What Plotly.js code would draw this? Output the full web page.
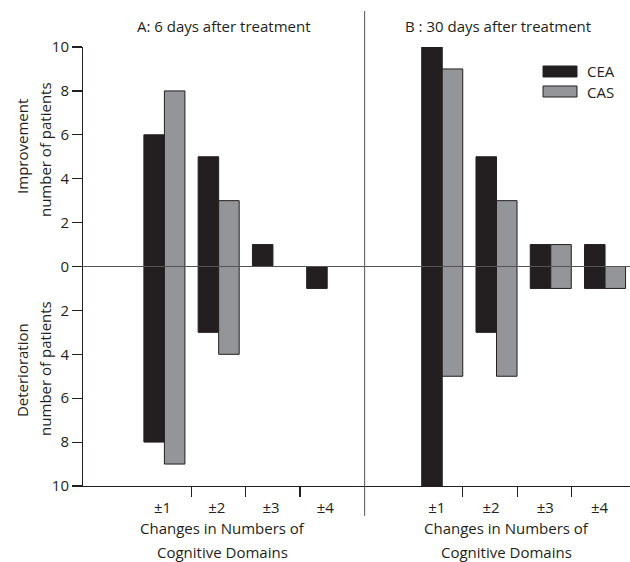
<!DOCTYPE html>
<html>
<head>
<meta charset="utf-8">
<script src="https://cdn.plot.ly/plotly-3.0.1.min.js"></script>
<style>html,body{margin:0;padding:0;background:#fff;}#chart{width:630px;height:562px;}</style>
</head>
<body>
<div id="chart"></div>
<script>
// ---- data ----
const categories = ['±1', '±2', '±3', '±4'];
const seriesNames = ['CEA', 'CAS'];
const panelTitles = ['A: 6 days after treatment', 'B : 30 days after treatment'];
const xAxisTitleLines = ['Changes in Numbers of', 'Cognitive Domains'];
const improvementTitleLines = ['Improvement', 'number of patients'];
const deteriorationTitleLines = ['Deterioration', 'number of patients'];
const yTickValues = [-10, -8, -6, -4, -2, 0, 2, 4, 6, 8, 10];
const yTickLabels = ['10', '8', '6', '4', '2', '0', '2', '4', '6', '8', '10'];

// Panel A: 6 days
const ceaImproveA = [6, 5, 1, 0];
const ceaDeteriorA = [8, 3, 0, 1];
const casImproveA = [8, 3, 0, 0];
const casDeteriorA = [9, 4, 0, 0];
// Panel B: 30 days
const ceaImproveB = [10, 5, 1, 1];
const ceaDeteriorB = [10, 3, 1, 1];
const casImproveB = [9, 3, 1, 0];
const casDeteriorB = [5, 5, 1, 1];

// ---- layout helpers ----
const FONT = 'Open Sans, sans-serif';
const FS = 15;
const TXT = '#231f20';
const colors = {CEA: '#231f20', CAS: '#939598'};
const barW = 0.378;
const startA = 1.5, startB = 6.62;       // pair centres of first category
const labelA = 1.465, labelB = 6.52;     // label centres of first category
const dividerX = 5.19;

function pos(start) { return categories.map((c, i) => start + i); }

function barTrace(name, imp, det, start, offset) {
  const y = imp.map((v, i) => (v + det[i]) === 0 ? null : v + det[i]);
  const base = det.map(v => -v);
  return {
    type: 'bar', name: name, x: pos(start), y: y, base: base,
    width: barW, offset: offset,
    marker: {color: colors[name], line: {color: '#231f20', width: 1}},
    showlegend: false, hoverinfo: 'skip'
  };
}

const data = [
  barTrace('CEA', ceaImproveA, ceaDeteriorA, startA, -barW),
  barTrace('CAS', casImproveA, casDeteriorA, startA, 0),
  barTrace('CEA', ceaImproveB, ceaDeteriorB, startB, -barW),
  barTrace('CAS', casImproveB, casDeteriorB, startB, 0),
  {type: 'scatter', x: [0], y: [0], xaxis: 'x2', mode: 'none', showlegend: false, hoverinfo: 'skip'}
];

function ann(text, xref, yref, x, y, extra) {
  return Object.assign({text: text, xref: xref, yref: yref, x: x, y: y, showarrow: false,
    xanchor: 'center', yanchor: 'middle', font: {family: FONT, size: FS, color: TXT}}, extra || {});
}

const annotations = [
  ann(panelTitles[0], 'x', 'paper', 2.58, 1.048),
  ann(panelTitles[1], 'x', 'paper', 7.65, 1.048),
  // x-axis titles (one per panel)
  ann(xAxisTitleLines[0], 'x', 'paper', 2.57, -0.0957),
  ann(xAxisTitleLines[1], 'x', 'paper', 2.57, -0.1503),
  ann(xAxisTitleLines[0], 'x', 'paper', 7.80, -0.0957),
  ann(xAxisTitleLines[1], 'x', 'paper', 7.80, -0.1503),
  // y-axis titles
  ann(improvementTitleLines[0], 'paper', 'y', -0.1115, 5.45, {textangle: -90}),
  ann(improvementTitleLines[1], 'paper', 'y', -0.0695, 5.35, {textangle: -90}),
  ann(deteriorationTitleLines[0], 'paper', 'y', -0.1115, -4.72, {textangle: -90}),
  ann(deteriorationTitleLines[1], 'paper', 'y', -0.0695, -4.62, {textangle: -90}),
  // legend labels
  ann(seriesNames[0], 'paper', 'paper', 0.9175, 0.9442, {xanchor: 'left'}),
  ann(seriesNames[1], 'paper', 'paper', 0.9175, 0.8986, {xanchor: 'left'})
];

const xRange = [0, 10.08];
const layout = {
  width: 630, height: 562,
  margin: {l: 83, r: 0, t: 47, b: 76},
  paper_bgcolor: '#fff', plot_bgcolor: '#fff',
  font: {family: FONT, size: FS, color: TXT},
  barmode: 'overlay',
  showlegend: false,
  xaxis: {
    range: xRange, showgrid: false, zeroline: false,
    showline: true, linecolor: TXT, linewidth: 1,
    tickvals: [2, 3, 4, 7, 8, 9], ticktext: ['', '', '', '', '', ''],
    ticks: 'outside', ticklen: 10, tickcolor: TXT, tickwidth: 1.2
  },
  xaxis2: {
    range: xRange, overlaying: 'x', anchor: 'y', side: 'bottom',
    showgrid: false, zeroline: false, showline: false,
    tickvals: pos(labelA).concat(pos(labelB)),
    ticktext: categories.concat(categories),
    ticks: 'outside', ticklen: 8, tickcolor: 'rgba(0,0,0,0)',
    tickfont: {family: FONT, size: FS, color: TXT}
  },
  yaxis: {
    range: [-10, 10], showgrid: false, zeroline: false,
    showline: true, linecolor: TXT, linewidth: 1,
    tickvals: yTickValues, ticktext: yTickLabels,
    ticks: 'outside', ticklen: 10, tickcolor: TXT, tickwidth: 1.2,
    tickfont: {family: FONT, size: FS, color: TXT}
  },
  shapes: [
    {type: 'line', xref: 'paper', yref: 'y', x0: 0, x1: 1, y0: 0, y1: 0,
     line: {color: '#555', width: 1}, layer: 'above'},
    {type: 'line', xref: 'x', yref: 'paper', x0: dividerX, x1: dividerX, y0: -0.068, y1: 1.082,
     line: {color: '#555', width: 1}, layer: 'above'},
    {type: 'rect', xref: 'paper', yref: 'paper', x0: 0.8410, x1: 0.9031, y0: 0.9317, y1: 0.9567,
     fillcolor: colors.CEA, line: {color: '#231f20', width: 1}},
    {type: 'rect', xref: 'paper', yref: 'paper', x0: 0.8410, x1: 0.9031, y0: 0.8861, y1: 0.9112,
     fillcolor: colors.CAS, line: {color: '#231f20', width: 1}}
  ],
  annotations: annotations
};

Plotly.newPlot('chart', data, layout, {displayModeBar: false, staticPlot: true});
</script>
</body>
</html>
